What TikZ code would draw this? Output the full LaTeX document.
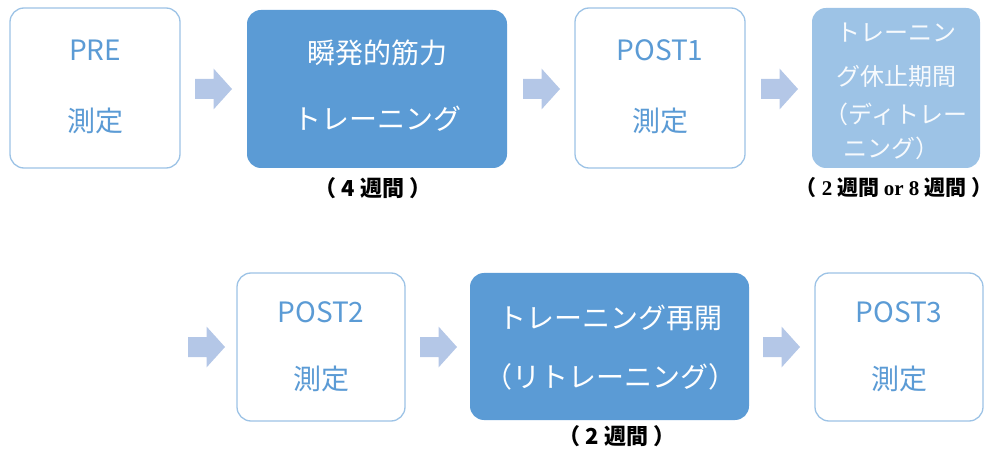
\documentclass[tikz,border=0pt]{standalone}
\usepackage{fontspec}
\setmainfont{Noto Sans CJK JP}
\newfontfamily\serifb{Liberation Serif}
\definecolor{boxline}{HTML}{9DC3E6}
\definecolor{boxtext}{HTML}{5B9BD5}
\definecolor{fillA}{HTML}{5B9BD5}
\definecolor{fillB}{HTML}{9DC3E6}
\definecolor{arrowc}{HTML}{B4C7E7}
\tikzset{
  wbox/.style={draw=boxline, line width=1.3pt, fill=white, rounded corners=14pt, inner sep=0pt},
  fbox/.style={fill=fillA, rounded corners=14pt, inner sep=0pt},
  lbox/.style={fill=fillB, rounded corners=14pt, inner sep=0pt},
  btxt/.style={text=boxtext, font=\fontsize{28}{32}\selectfont, inner sep=0pt},
  wtxt/.style={text=white, font=\fontsize{28}{32}\selectfont, inner sep=0pt},
  stxt/.style={text=white!92!fillB, font=\fontsize{24}{28}\selectfont, inner sep=0pt},
  lab/.style={font=\fontsize{22}{24}\selectfont\bfseries, text=black, inner sep=0pt},
  blockarrow/.pic={\fill[arrowc] (-18.5,-10) -- (0,-10) -- (0,-20.5) -- (18.5,0) -- (0,20.5) -- (0,10) -- (-18.5,10) -- cycle;},
}
\begin{document}
\begin{tikzpicture}[x=1pt,y=-1pt]
\useasboundingbox (0,0) rectangle (994,449);
% top row boxes
\path[wbox] (10,8) rectangle (180,168) node (pre) {};
\path[fbox] (247,10) rectangle (507,168) node (train) {};
\path[wbox] (575,8) rectangle (745,168) node (post1) {};
\path[lbox] (812,8) rectangle (980,168) node (detr) {};
% bottom row boxes
\path[wbox] (237,273) rectangle (405,421) node (post2) {};
\path[fbox] (470,273) rectangle (749,420) node (retr) {};
\path[wbox] (815,273) rectangle (983,421) node (post3) {};
% texts
\node[btxt] (t1a) at (95,50) {PRE};
\node[btxt] (t1b) at (95,121) {測定};
\node[wtxt] (t2a) at (377,53) {瞬発的筋力};
\node[wtxt] (t2b) at (377,119) {トレーニング};
\node[btxt] (t3a) at (660,50) {POST1};
\node[btxt] (t3b) at (660,121) {測定};
\node[stxt] (t4a) at (896,33) {トレーニン};
\node[stxt] (t4b) at (896,76) {グ休止期間};
\node[stxt] (t4c) at (896,114) {（ディトレー};
\node[stxt] (t4d) at (891,148) {ニング）};
\node[btxt] (t5a) at (321,312) {POST2};
\node[btxt] (t5b) at (321,379) {測定};
\node[wtxt] (t6a) at (610,318) {トレーニング再開};
\node[wtxt] (t6b) at (610,377) {（リトレーニング）};
\node[btxt] (t7a) at (899,312) {POST3};
\node[btxt] (t7b) at (899,379) {測定};
% labels
\node[lab] (l1) at (373,188) {（ 4 週間 ）};
\node[lab, font=\fontsize{21}{24}\selectfont\bfseries] (l2) at (894,188) {（ {\serifb 2} 週間 {\serifb or 8} 週間 ）};
\node[lab] (l3) at (617,436) {（ 2 週間 ）};
% block arrows
\pic (a1) at (213.5,89) {blockarrow};
\pic (a2) at (541.5,89) {blockarrow};
\pic (a3) at (779.5,89) {blockarrow};
\pic (a4) at (206.5,347) {blockarrow};
\pic (a5) at (438.5,347) {blockarrow};
\pic (a6) at (781.5,347) {blockarrow};
\end{tikzpicture}
\end{document}
